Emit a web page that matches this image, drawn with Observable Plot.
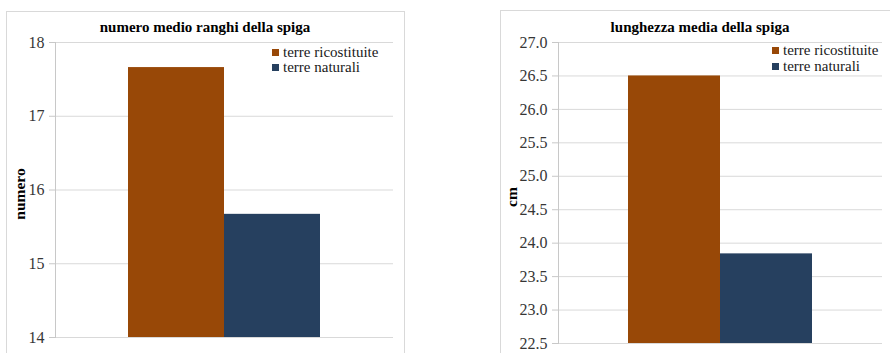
<!DOCTYPE html>
<html>
<head>
<meta charset="utf-8">
<script src="https://cdn.jsdelivr.net/npm/d3@7"></script>
<script src="https://cdn.jsdelivr.net/npm/@observablehq/plot@0.6"></script>
<style>
  html, body { margin: 0; padding: 0; background: #fff; width: 890px; height: 353px; overflow: hidden; }
  #page { position: relative; width: 890px; height: 353px; overflow: hidden; font-family: "Liberation Serif", "Times New Roman", serif; }
  #page svg { font-family: "Liberation Serif", "Times New Roman", serif !important; font-size: 16px !important; }
  #page svg text { font-family: "Liberation Serif", "Times New Roman", serif !important; }
  .panel { position: absolute; border: 1px solid #d9d9d9; box-sizing: border-box; }
  .holder { position: absolute; top: 0; }
  .title { position: absolute; font-family: "Liberation Serif", serif; font-weight: bold; font-size: 15px; color: #000; white-space: nowrap; transform: translate(-50%, -50%); }
  .ylab { position: absolute; font-family: "Liberation Serif", serif; font-weight: bold; font-size: 15.5px; color: #000; white-space: nowrap; transform: translate(-50%, -50%) rotate(-90deg); }
  .legend { position: absolute; font-family: "Liberation Serif", serif; font-size: 15px; color: #1a1a1a; }
  .legend .row { display: flex; align-items: center; height: 15.5px; line-height: 15.5px; white-space: nowrap; }
  .legend .sw { width: 7px; height: 7px; margin-right: 4px; flex: none; }
</style>
</head>
<body>
<div id="page"></div>
<script>
// Series shared by both panels
const series = ["terre ricostituite", "terre naturali"];
const colors = ["#984807", "#26405f"];

// Panel 1: mean number of kernel rows per ear
const rankTitle = "numero medio ranghi della spiga";
const rankLabel = "numero";
const rankValues = [17.66, 15.67];
const rankTicks = [14, 15, 16, 17, 18];

// Panel 2: mean ear length (cm)
const lengthTitle = "lunghezza media della spiga";
const lengthLabel = "cm";
const lengthValues = [26.50, 23.84];
const lengthTicks = [22.5, 23.0, 23.5, 24.0, 24.5, 25.0, 25.5, 26.0, 26.5, 27.0];

const page = document.getElementById("page");

function addEl(cls, css, text) {
  const el = document.createElement("div");
  el.className = cls;
  Object.assign(el.style, css);
  if (text != null) el.textContent = text;
  page.appendChild(el);
  return el;
}

function barChart({values, ticks, format, marginLeft, marginRight, marginTop, marginBottom}) {
  const data = series.map((s, i) => ({series: s, value: values[i]}));
  const base = ticks[0];
  return Plot.plot({
    width: 445,
    height: 353,
    marginLeft, marginRight, marginTop, marginBottom,
    style: {background: "none", color: "#363636"},
    x: {domain: series, paddingInner: 0, paddingOuter: 0.75, axis: null},
    y: {domain: [ticks[0], ticks[ticks.length - 1]], ticks, tickFormat: format},
    color: {domain: series, range: colors},
    marks: [
      Plot.gridY(ticks, {stroke: "#d9d9d9", strokeOpacity: 1}),
      Plot.frame({anchor: "left", stroke: "#c8c8c8"}),
      Plot.axisY(ticks, {tickSize: 6, tickPadding: 5, stroke: "#c8c8c8", tickFormat: format, label: null, fontSize: 16}),
      Plot.barY(data, {x: "series", y1: base, y2: "value", fill: "series"})
    ]
  });
}

function legend(left, top) {
  const box = addEl("legend", {left: left + "px", top: top + "px"});
  series.forEach((s, i) => {
    const row = document.createElement("div");
    row.className = "row";
    const sw = document.createElement("span");
    sw.className = "sw";
    sw.style.background = colors[i];
    const t = document.createElement("span");
    t.textContent = s;
    row.appendChild(sw);
    row.appendChild(t);
    box.appendChild(row);
  });
}

// Panel frames
addEl("panel", {left: "6px", top: "11px", width: "399px", height: "400px"});
addEl("panel", {left: "500px", top: "10px", width: "400px", height: "400px"});

// Left panel
const left = addEl("holder", {left: "0px"});
left.appendChild(barChart({
  values: rankValues, ticks: rankTicks, format: d3.format("d"),
  marginLeft: 55, marginRight: 52, marginTop: 42, marginBottom: 16
}));
addEl("title", {left: "205px", top: "27px"}, rankTitle);
addEl("ylab", {left: "20px", top: "194px"}, rankLabel);
legend(272, 44.5);

// Right panel
const right = addEl("holder", {left: "445px"});
right.appendChild(barChart({
  values: lengthValues, ticks: lengthTicks, format: d3.format(".1f"),
  marginLeft: 113, marginRight: 8, marginTop: 42, marginBottom: 10
}));
addEl("title", {left: "700px", top: "27px"}, lengthTitle);
addEl("ylab", {left: "512px", top: "197px"}, lengthLabel);
legend(772, 43);
</script>
</body>
</html>
